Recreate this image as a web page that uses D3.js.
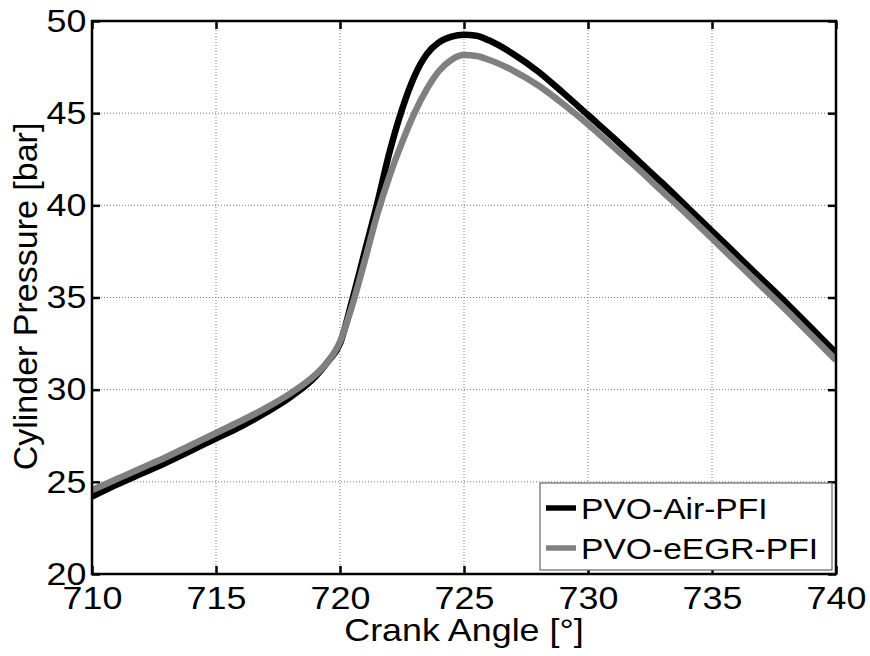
<!DOCTYPE html>
<html>
<head>
<meta charset="utf-8">
<script src="https://cdn.jsdelivr.net/npm/d3@7"></script>
<style>
  body { margin: 0; background: #fff; }
  svg { font-family: "Liberation Sans", Arial, sans-serif; }
</style>
</head>
<body>
<svg id="chart" width="870" height="656"></svg>
<script>
// crank angle [deg] sampled from the figure
const angle = [710, 711, 712, 713, 714, 715, 716, 717, 718, 719, 719.5, 720, 720.5, 721, 721.5, 722, 722.5, 723, 723.5, 724, 724.5, 725, 725.5, 726, 727, 728, 729, 730, 731, 732, 733, 734, 735, 736, 737, 738, 739, 740];

// cylinder pressure [bar]
const airPfi = [24.2, 24.85, 25.45, 26.05, 26.7, 27.35, 28.0, 28.75, 29.6, 30.7, 31.5, 32.5, 34.9, 37.5, 40.1, 42.9, 45.2, 47.0, 48.2, 48.85, 49.15, 49.25, 49.2, 48.95, 48.2, 47.25, 46.1, 44.9, 43.7, 42.45, 41.2, 39.9, 38.6, 37.3, 36.0, 34.7, 33.35, 32.0];
const egrPfi = [24.55, 25.15, 25.75, 26.35, 27.0, 27.65, 28.3, 29.0, 29.8, 30.8, 31.5, 32.6, 34.6, 37.0, 39.5, 41.6, 43.4, 45.0, 46.3, 47.3, 47.9, 48.15, 48.1, 47.9, 47.3, 46.5, 45.5, 44.4, 43.2, 42.0, 40.75, 39.5, 38.2, 36.9, 35.6, 34.3, 32.95, 31.6];

const seriesNames = ['PVO-Air-PFI', 'PVO-eEGR-PFI'];
const seriesColors = ['#000000', '#808080'];
const xTicks = [710, 715, 720, 725, 730, 735, 740];
const yTicks = [20, 25, 30, 35, 40, 45, 50];

const margin = {top: 21, right: 34, bottom: 82, left: 92};
const width = 870 - margin.left - margin.right;
const height = 656 - margin.top - margin.bottom;
const stretch = 1.12;

const svg = d3.select('#chart');
const g = svg.append('g').attr('transform', `translate(${margin.left},${margin.top})`);

const x = d3.scaleLinear().domain([710, 740]).range([0, width]);
const y = d3.scaleLinear().domain([20, 50]).range([height, 0]);

// dotted grid
g.append('g').selectAll('line')
    .data(xTicks.slice(1, -1))
    .join('line')
    .attr('x1', d => x(d)).attr('x2', d => x(d))
    .attr('y1', 0).attr('y2', height)
    .attr('stroke', '#777').attr('stroke-width', 1)
    .attr('stroke-dasharray', '1,2');
g.append('g').selectAll('line')
    .data(yTicks.slice(1, -1))
    .join('line')
    .attr('x1', 0).attr('x2', width)
    .attr('y1', d => y(d)).attr('y2', d => y(d))
    .attr('stroke', '#777').attr('stroke-width', 1)
    .attr('stroke-dasharray', '1,2');

// curves
g.append('clipPath').attr('id', 'clip')
    .append('rect').attr('width', width).attr('height', height);

const line = d3.line()
    .x(d => x(d[0]))
    .y(d => y(d[1]))
    .curve(d3.curveMonotoneX);

[airPfi, egrPfi].forEach((vals, i) => {
    g.append('path')
        .datum(angle.map((a, j) => [a, vals[j]]))
        .attr('d', line)
        .attr('fill', 'none')
        .attr('stroke', seriesColors[i])
        .attr('stroke-width', 6.5)
        .attr('stroke-linejoin', 'round')
        .attr('clip-path', 'url(#clip)');
});

// axes, ticks pointing inward on all four sides
const tickLen = 8;
const styleAxis = sel => {
    sel.select('.domain').remove();
    sel.selectAll('.tick line').attr('stroke', '#000').attr('stroke-width', 2.5);
};

const xAxis = g.append('g')
    .attr('transform', `translate(0,${height})`)
    .call(d3.axisBottom(x).tickValues(xTicks).tickSize(-tickLen).tickPadding(12).tickFormat(d3.format('d')))
    .call(styleAxis);
xAxis.selectAll('text')
    .attr('font-size', 32).attr('fill', '#000')
    .attr('transform', `scale(${stretch},1)`);

g.append('g')
    .call(d3.axisTop(x).tickValues(xTicks).tickSize(-tickLen).tickFormat(''))
    .call(styleAxis);

const yAxis = g.append('g')
    .call(d3.axisLeft(y).tickValues(yTicks).tickSize(-tickLen).tickPadding(5).tickFormat(d3.format('d')))
    .call(styleAxis);
yAxis.selectAll('text')
    .attr('font-size', 32).attr('fill', '#000')
    .attr('transform', `scale(${stretch},1)`);

g.append('g')
    .attr('transform', `translate(${width},0)`)
    .call(d3.axisRight(y).tickValues(yTicks).tickSize(-tickLen).tickFormat(''))
    .call(styleAxis);

// box
g.append('rect')
    .attr('width', width).attr('height', height)
    .attr('fill', 'none').attr('stroke', '#000').attr('stroke-width', 2.5);

// axis labels
svg.append('text')
    .attr('transform', `translate(${margin.left + width / 2},641) scale(${stretch},1)`)
    .attr('text-anchor', 'middle')
    .attr('font-size', 32)
    .text('Crank Angle [°]');

svg.append('text')
    .attr('transform', `translate(37,${margin.top + height / 2 - 1}) rotate(-90)`)
    .attr('text-anchor', 'middle')
    .attr('font-size', 34)
    .text('Cylinder Pressure [bar]');

// legend
const legend = svg.append('g').attr('transform', 'translate(540,483)');
legend.append('rect')
    .attr('width', 292).attr('height', 87)
    .attr('fill', '#fff').attr('stroke', '#666').attr('stroke-width', 1.2);
seriesNames.forEach((name, i) => {
    const row = legend.append('g').attr('transform', `translate(0,${25 + i * 40})`);
    row.append('line')
        .attr('x1', 6).attr('x2', 36)
        .attr('stroke', seriesColors[i]).attr('stroke-width', 5.5);
    row.append('text')
        .attr('transform', `translate(41,11) scale(${stretch},1)`)
        .attr('font-size', 30)
        .text(name);
});
</script>
</body>
</html>
